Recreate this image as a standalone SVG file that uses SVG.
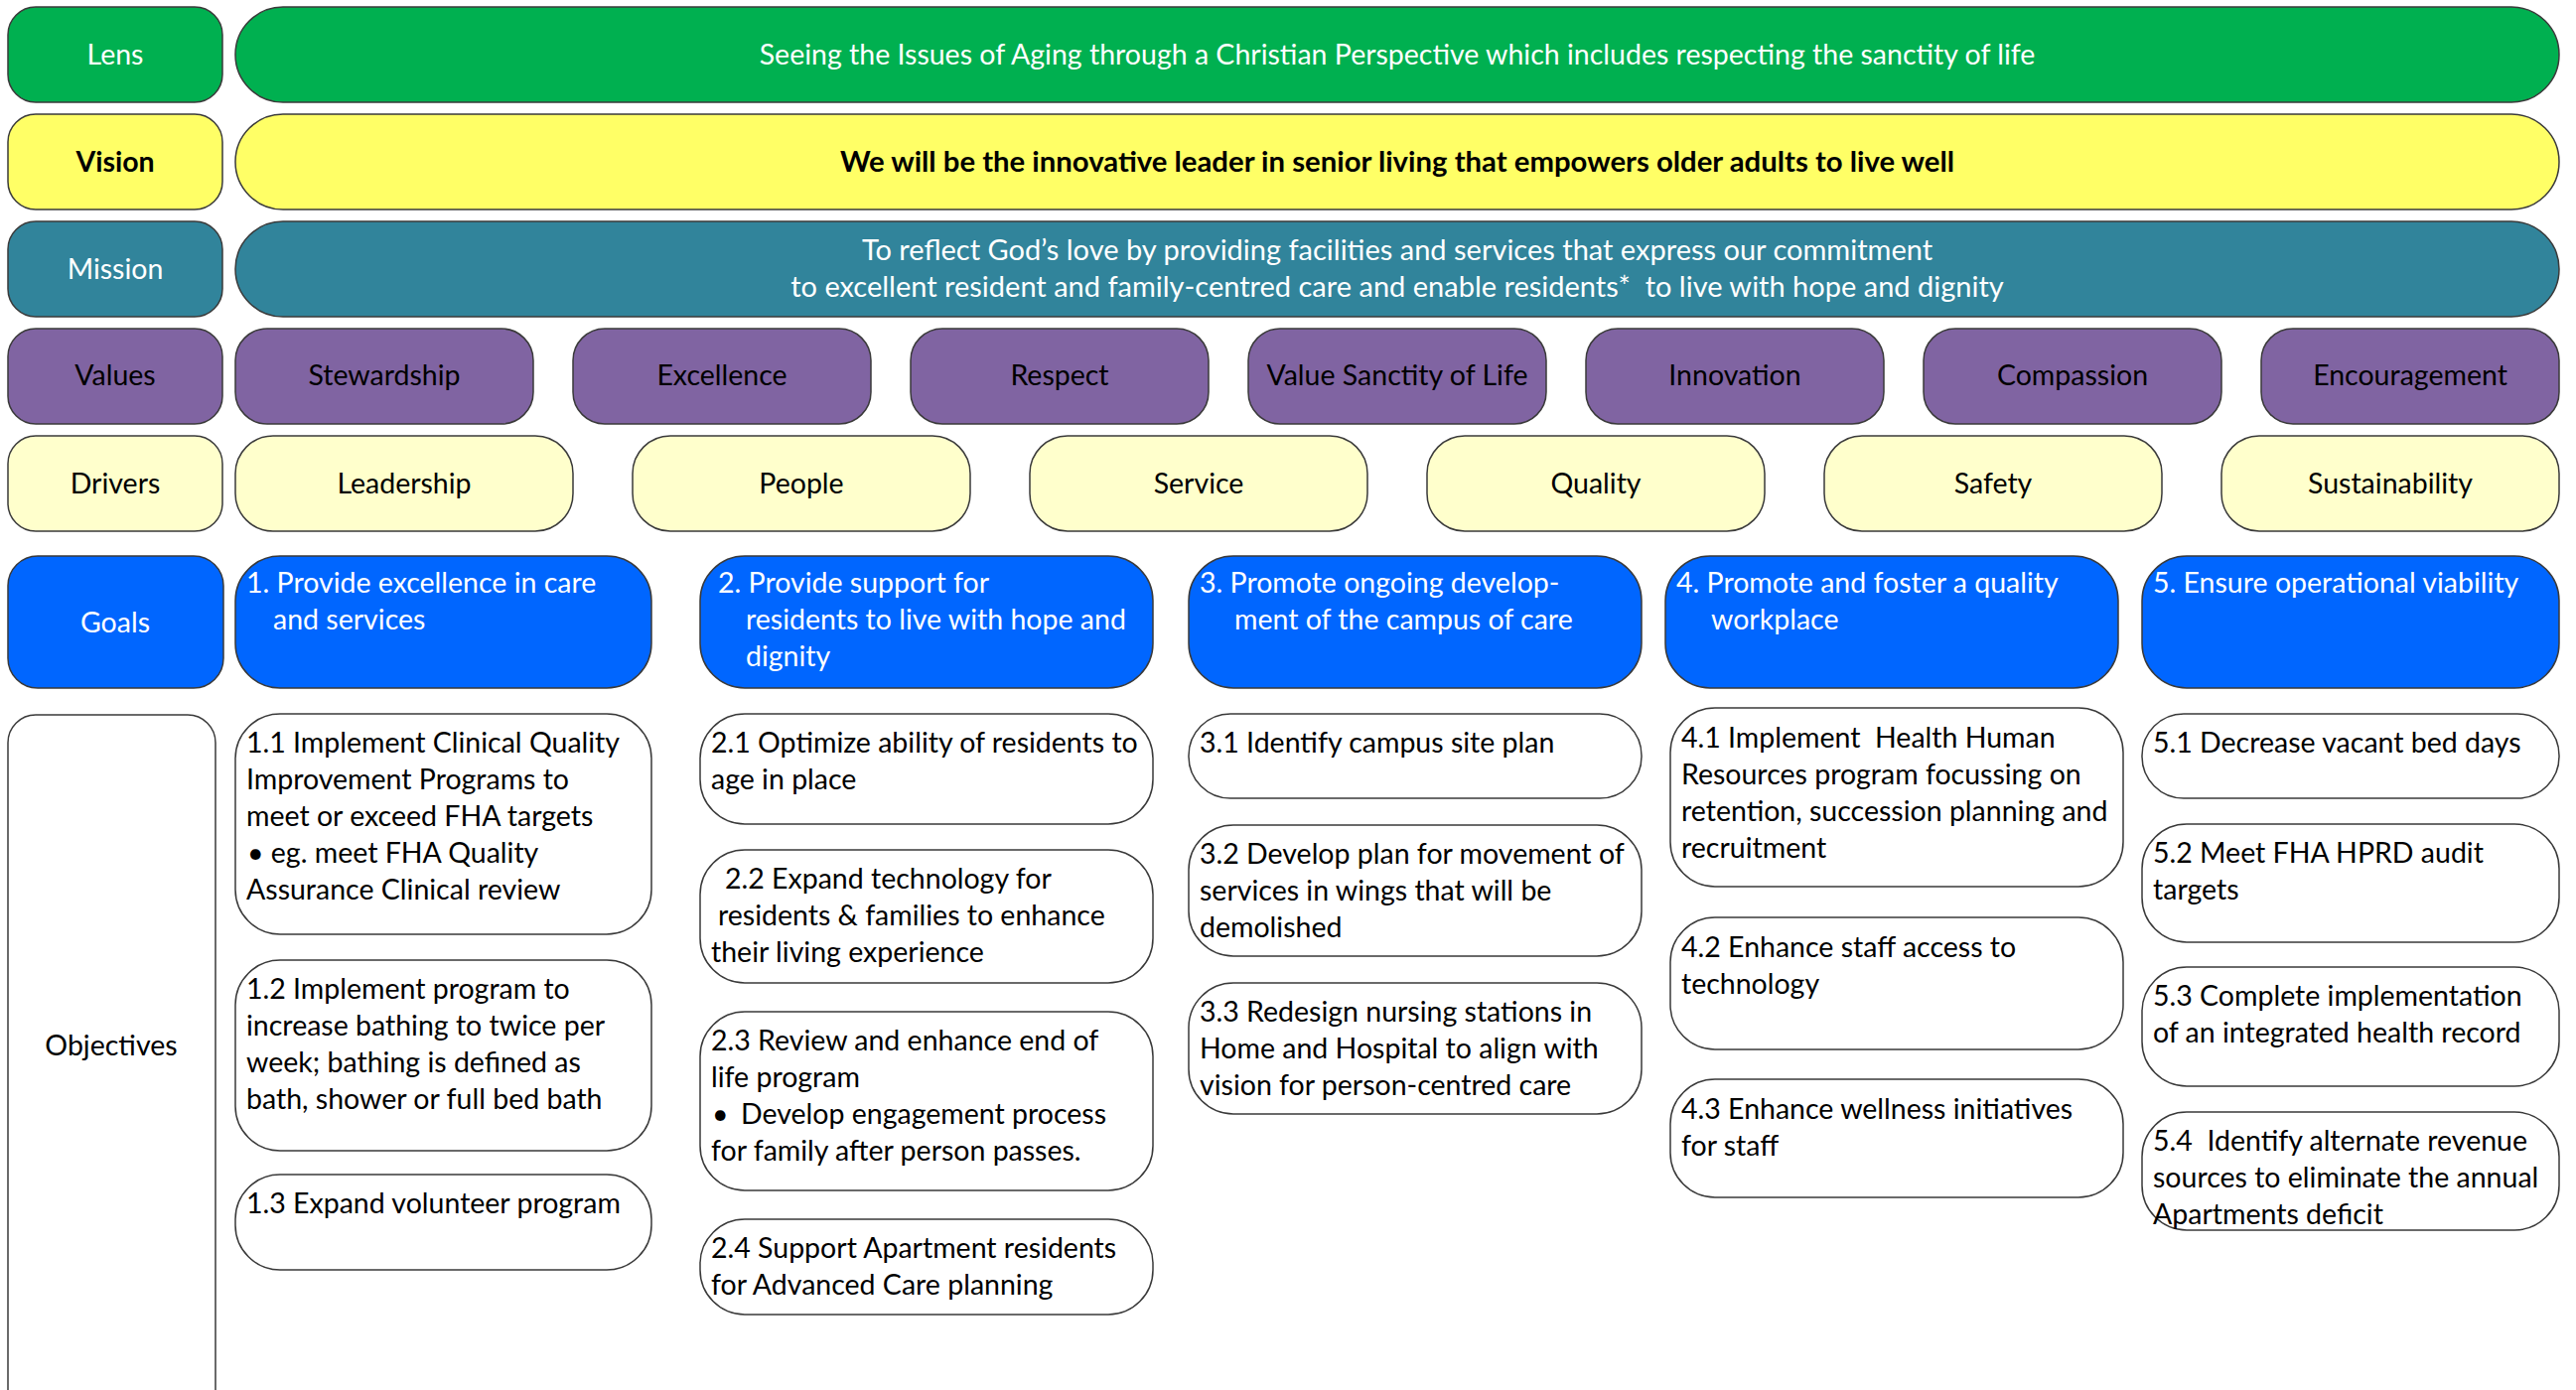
<svg xmlns="http://www.w3.org/2000/svg" width="2594" height="1400" viewBox="0 0 2594 1400">
<style>
text{font-family:Lato,"Liberation Sans",sans-serif;font-size:28.5px;white-space:pre}
.box{stroke:#3a3a3a;stroke-width:1.5}
.lens{fill:#00B050}
.vision{fill:#FFFF66}
.mission{fill:#31849B}
.values{fill:#8064A2}
.drivers{fill:#FFFFCC}
.goal{fill:#0066FF}
.obj{fill:#FFFFFF}
.w{fill:#FFFFFF}
.k{fill:#000000}
.c{text-anchor:middle}
.b{font-weight:bold}
.big{font-size:29.3px}
.mis{font-size:29px}
</style>
<rect width="2594" height="1400" fill="#FFFFFF"/>
<g id="connectors"></g>

<!-- Row labels -->
<g id="label-lens"><rect class="box lens" x="8" y="7" width="216" height="96" rx="28"/><text class="w c" x="116" y="65">Lens</text></g>
<g id="label-vision"><rect class="box vision" x="8" y="115" width="216" height="96" rx="28"/><text class="k c b" x="116" y="173">Vision</text></g>
<g id="label-mission"><rect class="box mission" x="8" y="223" width="216" height="96" rx="28"/><text class="w c" x="116" y="281">Mission</text></g>
<g id="label-values"><rect class="box values" x="8" y="331" width="216" height="96" rx="28"/><text class="k c" x="116" y="388">Values</text></g>
<g id="label-drivers"><rect class="box drivers" x="8" y="439" width="216" height="96" rx="28"/><text class="k c" x="116" y="497">Drivers</text></g>
<g id="label-goals"><rect class="box goal" x="8" y="560" width="217" height="133" rx="30"/><text class="w c" x="116" y="637">Goals</text></g>
<g id="label-objectives"><rect class="box obj" x="8" y="720" width="209" height="720" rx="28"/><text class="k c" x="112" y="1063">Objectives</text></g>

<!-- Bars -->
<g id="lens-bar"><rect class="box lens" x="237" y="7" width="2340" height="96" rx="48"/><text class="w c" x="1407" y="65">Seeing the Issues of Aging through a Christian Perspective which includes respecting the sanctity of life</text></g>
<g id="vision-bar"><rect class="box vision" x="237" y="115" width="2340" height="96" rx="48"/><text class="k c b big" x="1407" y="173">We will be the innovative leader in senior living that empowers older adults to live well</text></g>
<g id="mission-bar"><rect class="box mission" x="237" y="223" width="2340" height="96" rx="48"/><text class="w c mis" x="1407" y="262">To reflect God’s love by providing facilities and services that express our commitment</text><text class="w c mis" x="1407" y="299">to excellent resident and family-centred care and enable residents*  to live with hope and dignity</text></g>

<!-- Values -->
<g id="value-stewardship"><rect class="box values" x="237" y="331" width="300" height="96" rx="32"/><text class="k c" x="387" y="388">Stewardship</text></g>
<g id="value-excellence"><rect class="box values" x="577" y="331" width="300" height="96" rx="32"/><text class="k c" x="727" y="388">Excellence</text></g>
<g id="value-respect"><rect class="box values" x="917" y="331" width="300" height="96" rx="32"/><text class="k c" x="1067" y="388">Respect</text></g>
<g id="value-sanctity"><rect class="box values" x="1257" y="331" width="300" height="96" rx="32"/><text class="k c" x="1407" y="388">Value Sanctity of Life</text></g>
<g id="value-innovation"><rect class="box values" x="1597" y="331" width="300" height="96" rx="32"/><text class="k c" x="1747" y="388">Innovation</text></g>
<g id="value-compassion"><rect class="box values" x="1937" y="331" width="300" height="96" rx="32"/><text class="k c" x="2087" y="388">Compassion</text></g>
<g id="value-encouragement"><rect class="box values" x="2277" y="331" width="300" height="96" rx="32"/><text class="k c" x="2427" y="388">Encouragement</text></g>

<!-- Drivers -->
<g id="driver-leadership"><rect class="box drivers" x="237" y="439" width="340" height="96" rx="38"/><text class="k c" x="407" y="497">Leadership</text></g>
<g id="driver-people"><rect class="box drivers" x="637" y="439" width="340" height="96" rx="38"/><text class="k c" x="807" y="497">People</text></g>
<g id="driver-service"><rect class="box drivers" x="1037" y="439" width="340" height="96" rx="38"/><text class="k c" x="1207" y="497">Service</text></g>
<g id="driver-quality"><rect class="box drivers" x="1437" y="439" width="340" height="96" rx="38"/><text class="k c" x="1607" y="497">Quality</text></g>
<g id="driver-safety"><rect class="box drivers" x="1837" y="439" width="340" height="96" rx="38"/><text class="k c" x="2007" y="497">Safety</text></g>
<g id="driver-sustainability"><rect class="box drivers" x="2237" y="439" width="340" height="96" rx="38"/><text class="k c" x="2407" y="497">Sustainability</text></g>

<!-- Goals -->
<g id="goal-1"><rect class="box goal" x="237" y="560" width="419" height="133" rx="45"/><text class="w"><tspan x="248" y="597">1. Provide excellence in care</tspan><tspan x="275" y="634">and services</tspan></text></g>
<g id="goal-2"><rect class="box goal" x="705" y="560" width="456" height="133" rx="45"/><text class="w"><tspan x="723" y="597">2. Provide support for</tspan><tspan x="751" y="634">residents to live with hope and</tspan><tspan x="751" y="671">dignity</tspan></text></g>
<g id="goal-3"><rect class="box goal" x="1197" y="560" width="456" height="133" rx="45"/><text class="w"><tspan x="1208" y="597">3. Promote ongoing develop-</tspan><tspan x="1243" y="634">ment of the campus of care</tspan></text></g>
<g id="goal-4"><rect class="box goal" x="1677" y="560" width="456" height="133" rx="45"/><text class="w"><tspan x="1688" y="597">4. Promote and foster a quality</tspan><tspan x="1723" y="634">workplace</tspan></text></g>
<g id="goal-5"><rect class="box goal" x="2157" y="560" width="420" height="133" rx="45"/><text class="w"><tspan x="2168" y="597">5. Ensure operational viability</tspan></text></g>

<!-- Objectives column 1 -->
<g id="obj-1-1"><rect class="box obj" x="237" y="719" width="419" height="222" rx="45"/><text class="k"><tspan x="248" y="758">1.1 Implement Clinical Quality</tspan><tspan x="248" y="795">Improvement Programs to</tspan><tspan x="248" y="832">meet or exceed FHA targets</tspan><tspan x="249" y="869">• eg. meet FHA Quality</tspan><tspan x="248" y="906">Assurance Clinical review</tspan></text></g>
<g id="obj-1-2"><rect class="box obj" x="237" y="967" width="419" height="192" rx="45"/><text class="k"><tspan x="248" y="1006">1.2 Implement program to</tspan><tspan x="248" y="1043">increase bathing to twice per</tspan><tspan x="248" y="1080">week; bathing is defined as</tspan><tspan x="248" y="1117">bath, shower or full bed bath</tspan></text></g>
<g id="obj-1-3"><rect class="box obj" x="237" y="1183" width="419" height="96" rx="45"/><text class="k"><tspan x="248" y="1222">1.3 Expand volunteer program</tspan></text></g>

<!-- Objectives column 2 -->
<g id="obj-2-1"><rect class="box obj" x="705" y="719" width="456" height="111" rx="45"/><text class="k"><tspan x="716" y="758">2.1 Optimize ability of residents to</tspan><tspan x="716" y="795">age in place</tspan></text></g>
<g id="obj-2-2"><rect class="box obj" x="705" y="856" width="456" height="134" rx="45"/><text class="k"><tspan x="730" y="895">2.2 Expand technology for</tspan><tspan x="723" y="932">residents &amp; families to enhance</tspan><tspan x="716" y="969">their living experience</tspan></text></g>
<g id="obj-2-3"><rect class="box obj" x="705" y="1019" width="456" height="180" rx="45"/><text class="k"><tspan x="716" y="1058">2.3 Review and enhance end of</tspan><tspan x="716" y="1095">life program</tspan><tspan x="717" y="1132">•</tspan><tspan x="746" y="1132">Develop engagement process</tspan><tspan x="716" y="1169">for family after person passes.</tspan></text></g>
<g id="obj-2-4"><rect class="box obj" x="705" y="1228" width="456" height="96" rx="45"/><text class="k"><tspan x="716" y="1267">2.4 Support Apartment residents</tspan><tspan x="716" y="1304">for Advanced Care planning</tspan></text></g>

<!-- Objectives column 3 -->
<g id="obj-3-1"><rect class="box obj" x="1197" y="719" width="456" height="85" rx="42"/><text class="k"><tspan x="1208" y="758">3.1 Identify campus site plan</tspan></text></g>
<g id="obj-3-2"><rect class="box obj" x="1197" y="831" width="456" height="132" rx="45"/><text class="k"><tspan x="1208" y="870">3.2 Develop plan for movement of</tspan><tspan x="1208" y="907">services in wings that will be</tspan><tspan x="1208" y="944">demolished</tspan></text></g>
<g id="obj-3-3"><rect class="box obj" x="1197" y="990" width="456" height="132" rx="45"/><text class="k"><tspan x="1208" y="1029">3.3 Redesign nursing stations in</tspan><tspan x="1208" y="1066">Home and Hospital to align with</tspan><tspan x="1208" y="1103">vision for person-centred care</tspan></text></g>

<!-- Objectives column 4 -->
<g id="obj-4-1"><rect class="box obj" x="1682" y="713" width="456" height="180" rx="45"/><text class="k"><tspan x="1693" y="753">4.1 Implement  Health Human</tspan><tspan x="1693" y="790">Resources program focussing on</tspan><tspan x="1693" y="827">retention, succession planning and</tspan><tspan x="1693" y="864">recruitment</tspan></text></g>
<g id="obj-4-2"><rect class="box obj" x="1682" y="924" width="456" height="133" rx="45"/><text class="k"><tspan x="1693" y="964">4.2 Enhance staff access to</tspan><tspan x="1693" y="1001">technology</tspan></text></g>
<g id="obj-4-3"><rect class="box obj" x="1682" y="1087" width="456" height="119" rx="45"/><text class="k"><tspan x="1693" y="1127">4.3 Enhance wellness initiatives</tspan><tspan x="1693" y="1164">for staff</tspan></text></g>

<!-- Objectives column 5 -->
<g id="obj-5-1"><rect class="box obj" x="2157" y="719" width="420" height="85" rx="42"/><text class="k"><tspan x="2168" y="758">5.1 Decrease vacant bed days</tspan></text></g>
<g id="obj-5-2"><rect class="box obj" x="2157" y="830" width="420" height="119" rx="45"/><text class="k"><tspan x="2168" y="869">5.2 Meet FHA HPRD audit</tspan><tspan x="2168" y="906">targets</tspan></text></g>
<g id="obj-5-3"><rect class="box obj" x="2157" y="974" width="420" height="120" rx="45"/><text class="k"><tspan x="2168" y="1013">5.3 Complete implementation</tspan><tspan x="2168" y="1050">of an integrated health record</tspan></text></g>
<g id="obj-5-4"><rect class="box obj" x="2157" y="1120" width="420" height="119" rx="45"/><text class="k"><tspan x="2168" y="1159">5.4  Identify alternate revenue</tspan><tspan x="2168" y="1196">sources to eliminate the annual</tspan><tspan x="2168" y="1233">Apartments deficit</tspan></text></g>
</svg>
